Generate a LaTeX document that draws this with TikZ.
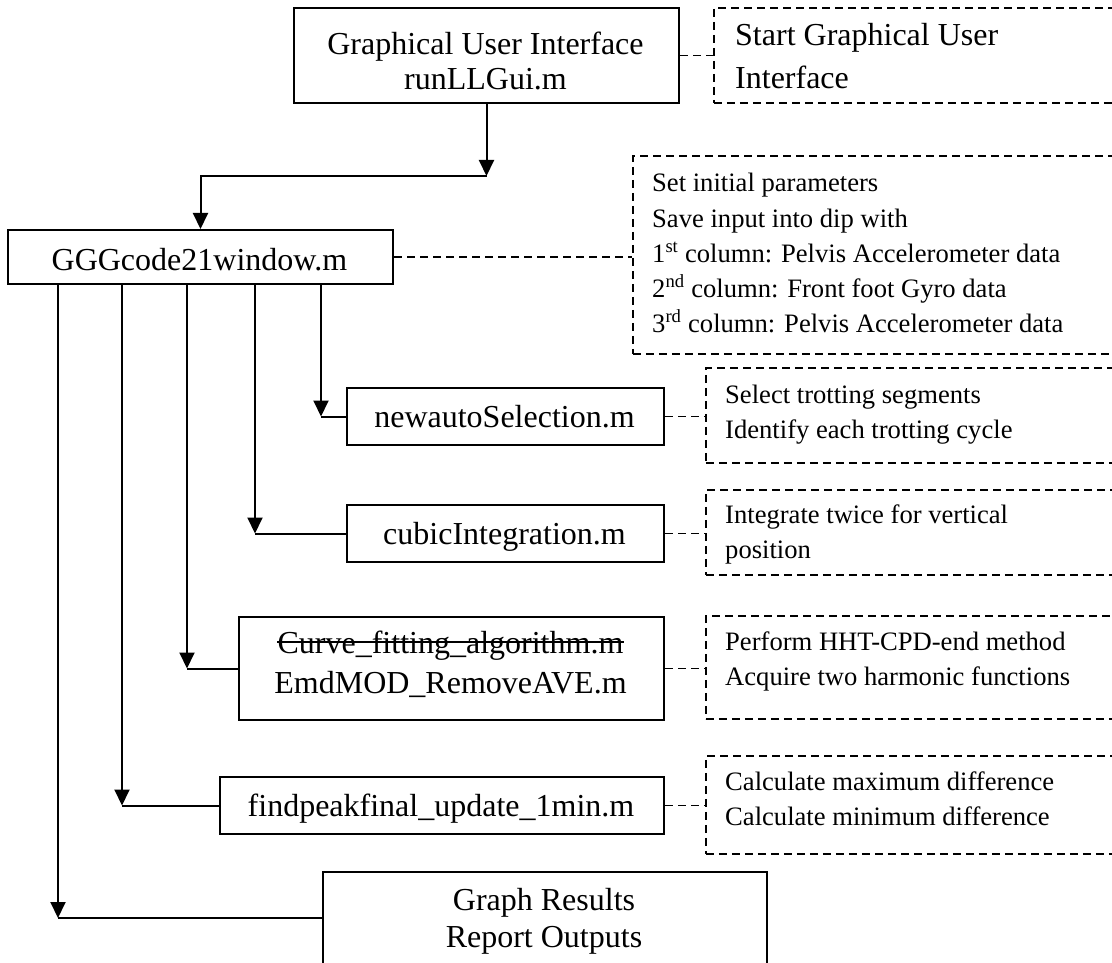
\documentclass[tikz,border=0pt]{standalone}
\usepackage{fontspec}
\setmainfont{Liberation Serif}
\usetikzlibrary{arrows.meta,calc}

\begin{document}
\begin{tikzpicture}[x=1pt,y=-1pt,
  box/.style={draw, line width=2pt, rectangle, inner sep=0pt, anchor=north west},
  note/.style={draw, line width=1.7pt, dash pattern=on 8pt off 5pt, rectangle, inner sep=0pt, anchor=north west},
  big/.style={inner sep=0pt, font=\fontsize{32}{35}\selectfont},
  small/.style={inner sep=0pt, font=\fontsize{26.6}{35}\selectfont},
  arr/.style={line width=2pt, -{Triangle[length=16pt,width=15pt]}},
  link/.style={line width=2pt},
  dlink/.style={line width=1.7pt, dash pattern=on 8pt off 5pt}]

\useasboundingbox (0,0) rectangle (1112,963);
\clip (0,0) rectangle (1112,963);

% ---- program boxes ----
\node[box, minimum width=385pt, minimum height=95pt] (gui) at (293,7) {};
\node[big, anchor=base] (guiA) at (485.5,55) {Graphical User Interface};
\node[big, anchor=base] (guiB) at (485.5,90) {runLLGui.m};

\node[box, minimum width=385pt, minimum height=54pt] (ggg) at (7,229) {};
\node[big, anchor=base] (gggA) at (199.5,270) {GGGcode21window.m};

\node[box, minimum width=317pt, minimum height=57pt] (nas) at (346,387) {};
\node[big, anchor=base] (nasA) at (504.5,427.5) {newautoSelection.m};

\node[box, minimum width=317pt, minimum height=57pt] (cub) at (346,504) {};
\node[big, anchor=base] (cubA) at (504.5,544.5) {cubicIntegration.m};

\node[box, minimum width=425pt, minimum height=103pt] (crv) at (238,616) {};
\node[big, anchor=base] (crvA) at (450.5,653) {Curve\_fitting\_algorithm.m};
\node[big, anchor=base] (crvB) at (450.5,693) {EmdMOD\_RemoveAVE.m};
\draw[line width=1.6pt] ([yshift=11pt]crvA.base west) -- ([yshift=11pt]crvA.base east);

\node[box, minimum width=444pt, minimum height=57pt] (fpk) at (219,776) {};
\node[big, anchor=base] (fpkA) at (441,816.5) {findpeakfinal\_update\_1min.m};

\node[box, minimum width=444pt, minimum height=140pt] (grf) at (322,871) {};
\node[big, anchor=base] (grfA) at (544,910) {Graph Results};
\node[big, anchor=base] (grfB) at (544,947) {Report Outputs};

% ---- description boxes ----
\node[note, minimum width=420pt, minimum height=95pt] (n1) at (713,7) {};
\node[big, anchor=base west] (n1a) at (735,46) {Start Graphical User};
\node[big, anchor=base west] (n1b) at (735,89) {Interface};

\node[note, minimum width=500pt, minimum height=198pt] (n2) at (632,155) {};
\node[small, anchor=base west] (n2a) at (652,192) {Set initial parameters};
\node[small, anchor=base west] (n2b) at (652,227) {Save input into dip with};
\node[small, anchor=base west] (n2c) at (652,262) {1\textsuperscript{st} column: Pelvis Accelerometer data};
\node[small, anchor=base west] (n2d) at (652,297) {2\textsuperscript{nd} column: Front foot Gyro data};
\node[small, anchor=base west] (n2e) at (652,332) {3\textsuperscript{rd} column: Pelvis Accelerometer data};

\node[note, minimum width=430pt, minimum height=95pt] (n3) at (705,367) {};
\node[small, anchor=base west] (n3a) at (725,403) {Select trotting segments};
\node[small, anchor=base west] (n3b) at (725,438) {Identify each trotting cycle};

\node[note, minimum width=430pt, minimum height=85pt] (n4) at (705,489) {};
\node[small, anchor=base west] (n4a) at (725,523) {Integrate twice for vertical};
\node[small, anchor=base west] (n4b) at (725,558) {position};

\node[note, minimum width=430pt, minimum height=103pt] (n5) at (705,615) {};
\node[small, anchor=base west] (n5a) at (725,650) {Perform HHT-CPD-end method};
\node[small, anchor=base west] (n5b) at (725,685) {Acquire two harmonic functions};

\node[note, minimum width=430pt, minimum height=98pt] (n6) at (705,755) {};
\node[small, anchor=base west] (n6a) at (725,790) {Calculate maximum difference};
\node[small, anchor=base west] (n6b) at (725,825) {Calculate minimum difference};

% ---- dashed links to descriptions ----
\draw[dlink] (gui.east) -- (gui.east -| n1.west);
\draw[dlink] (ggg.east) -- (ggg.east -| n2.west);
\draw[dlink] (nas.east) -- (nas.east -| n3.west);
\draw[dlink] (cub.east) -- (cub.east -| n4.west);
\draw[dlink] (crv.east) -- (crv.east -| n5.west);
\draw[dlink] (fpk.east) -- (fpk.east -| n6.west);

% ---- control flow ----
\coordinate (c0) at ($(gui.south)+(0,72)$);
\draw[arr] (gui.south) -- (c0);
\draw[arr] (c0) -| (ggg.north);

\coordinate (v1) at ($(ggg.south west)+(314,0)$);
\coordinate (v2) at ($(ggg.south west)+(248,0)$);
\coordinate (v3) at ($(ggg.south west)+(180,0)$);
\coordinate (v4) at ($(ggg.south west)+(115,0)$);
\coordinate (v5) at ($(ggg.south west)+(51,0)$);
\coordinate (g1) at ($(grf.north west)+(0,47)$);

\draw[arr] (v1) -- (v1 |- nas.west);
\draw[link] (v1 |- nas.west) -- (nas.west);
\draw[arr] (v2) -- (v2 |- cub.west);
\draw[link] (v2 |- cub.west) -- (cub.west);
\draw[arr] (v3) -- (v3 |- crv.west);
\draw[link] (v3 |- crv.west) -- (crv.west);
\draw[arr] (v4) -- (v4 |- fpk.west);
\draw[link] (v4 |- fpk.west) -- (fpk.west);
\draw[arr] (v5) -- (v5 |- g1);
\draw[link] (v5 |- g1) -- (g1);
\end{tikzpicture}
\end{document}
